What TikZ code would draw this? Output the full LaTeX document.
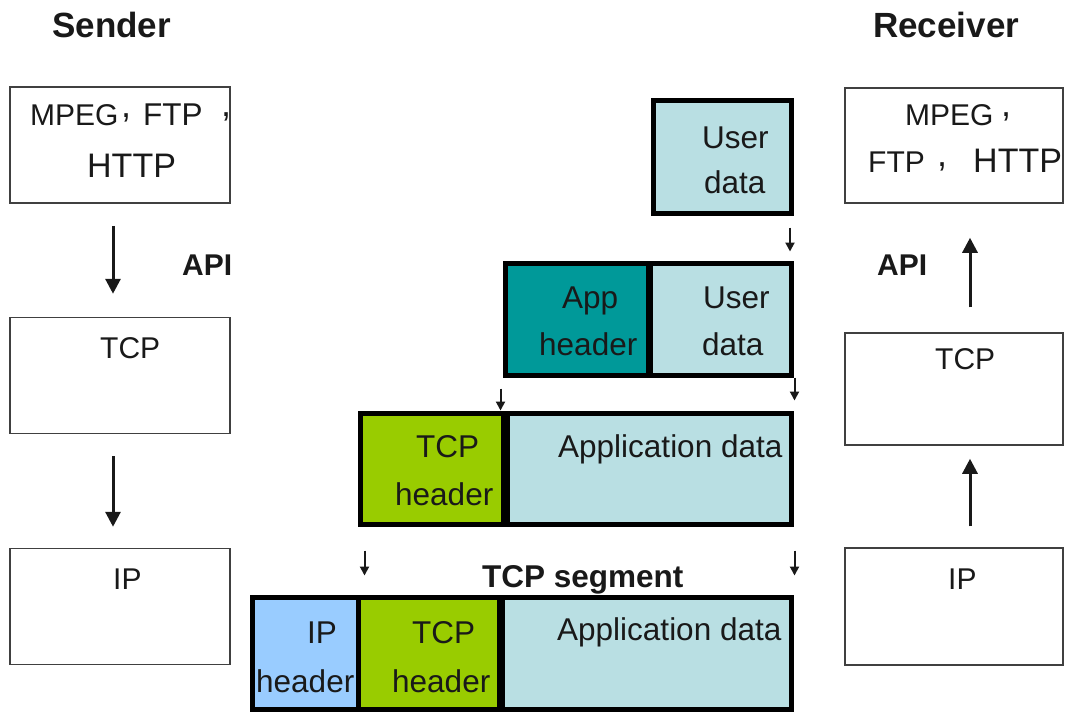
\documentclass[tikz,border=0pt]{standalone}
\usepackage{fontspec}
\setmainfont{Liberation Sans}
\usetikzlibrary{arrows.meta}

\definecolor{datacyan}{RGB}{185,223,227}
\definecolor{appteal}{RGB}{0,153,153}
\definecolor{tcpgreen}{RGB}{153,204,0}
\definecolor{ipblue}{RGB}{153,204,255}
\definecolor{ink}{RGB}{25,25,25}

\begin{document}
\begin{tikzpicture}[x=1pt,y=-1pt,
  sidebox/.style={draw=black!75, line width=1.5pt, inner sep=0pt,
    minimum width=220pt, minimum height=116pt},
  pdu/.style={draw=black, line width=5pt, inner sep=0pt, fill=#1},
  lbl/.style={inner sep=0pt, anchor=base west, text=ink,
    font=\fontsize{30}{36}\selectfont},
  biglbl/.style={lbl, font=\fontsize{34}{40}\selectfont},
  midlbl/.style={lbl, font=\fontsize{31.5}{38}\selectfont},
  ttl/.style={inner sep=0pt, anchor=base west, text=ink,
    font=\bfseries\fontsize{35}{42}\selectfont},
  sublbl/.style={ttl, font=\bfseries\fontsize{30}{36}\selectfont},
  seglbl/.style={ttl, font=\bfseries\fontsize{31.5}{38}\selectfont},
  comma/.style={inner sep=0pt, outer sep=0pt, text=ink, font=\fontsize{36}{36}\selectfont},
  bigarrow/.style={draw=ink, line width=3pt, -{Triangle[length=15pt,width=15pt]}},
  smallarrow/.style={draw=ink, line width=2pt, -{Triangle[length=9pt,width=9pt]}}
]
\useasboundingbox[fill=white] (0,0) rectangle (1067,715);

% ---- column titles ----
\node[ttl] (sender) at (52,37) {Sender};
\node[ttl] (receiver) at (873,37) {Receiver};

% ---- sender stack ----
\node[sidebox] (s1) at (120,145) {};
\node[sidebox] (s2) at (120,375.5) {};
\node[sidebox] (s3) at (120,606.5) {};
\node[lbl] (s1mpeg) at (30,125) {MPEG};
\node[comma] (s1c1) at (126,118) {,};
\node[midlbl] (s1ftp) at (143,125) {FTP};
\node[comma] (s1c2) at (226,117) {,};
\node[biglbl] (s1http) at (87,177) {HTTP};
\node[lbl] (s2tcp) at (100,358) {TCP};
\node[lbl] (s3ip) at (113,589) {IP};
\node[sublbl] (sapi) at (182,275) {API};

\draw[bigarrow] ([xshift=-7pt,yshift=-22pt]s1.south) -- ([xshift=-7pt,yshift=23pt]s2.north);
\draw[bigarrow] ([xshift=-7pt,yshift=-22pt]s2.south) -- ([xshift=-7pt,yshift=21pt]s3.north);

% ---- receiver stack ----
\node[sidebox, minimum width=218pt, minimum height=115pt] (r1) at (954,145.5) {};
\node[sidebox, minimum width=218pt, minimum height=112pt] (r2) at (954,389) {};
\node[sidebox, minimum width=218pt, minimum height=117pt] (r3) at (954,606.5) {};
\node[lbl] (r1mpeg) at (905,125) {MPEG};
\node[comma] (r1c1) at (1006,117) {,};
\node[lbl] (r1ftp) at (868,172) {FTP};
\node[comma] (r1c2) at (942,167) {,};
\node[biglbl] (r1http) at (973,172) {HTTP};
\node[lbl] (r2tcp) at (935,369) {TCP};
\node[lbl] (r3ip) at (948,589) {IP};
\node[sublbl] (rapi) at (877,275) {API};

\draw[bigarrow] ([xshift=16pt,yshift=25pt]r2.north) -- ([xshift=16pt,yshift=-34pt]r1.south);
\draw[bigarrow] ([xshift=16pt,yshift=21pt]r3.north) -- ([xshift=16pt,yshift=-13pt]r2.south);

% ---- encapsulation ----
% user data
\node[pdu=datacyan, minimum width=138pt, minimum height=113pt] (ud1) at (722,156.5) {};
\node[midlbl] (ud1a) at (702,148) {User};
\node[midlbl] (ud1b) at (704,193) {data};

% application header + user data
\node[pdu=appteal, minimum width=143pt, minimum height=112pt] (apph) at (576.5,319) {};
\node[pdu=datacyan, minimum width=141pt, minimum height=112pt] (ud2) at (720.5,319) {};
\node[midlbl] (appha) at (562,308) {App};
\node[midlbl] (apphb) at (539,355) {header};
\node[midlbl] (ud2a) at (703,308) {User};
\node[midlbl] (ud2b) at (702,355) {data};

% TCP header + application data
\node[pdu=tcpgreen, minimum width=143pt, minimum height=111pt] (tcph3) at (431.5,468.5) {};
\node[pdu=datacyan, minimum width=284pt, minimum height=111pt] (appd3) at (649,468.5) {};
\node[midlbl] (tcph3a) at (416,457) {TCP};
\node[midlbl] (tcph3b) at (395,505) {header};
\node[midlbl] (appd3a) at (558,457) {Application data};

% IP header + TCP segment
\node[pdu=ipblue, minimum width=106pt, minimum height=112pt] (iph4) at (305,653) {};
\node[pdu=tcpgreen, minimum width=141pt, minimum height=112pt] (tcph4) at (428.5,653) {};
\node[pdu=datacyan, minimum width=289pt, minimum height=112pt] (appd4) at (646.5,653) {};
\node[midlbl] (iph4a) at (307,643) {IP};
\node[midlbl] (iph4b) at (256,692) {header};
\node[midlbl] (tcph4a) at (412,643) {TCP};
\node[midlbl] (tcph4b) at (392,692) {header};
\node[midlbl] (appd4a) at (557,640) {Application data};
\node[seglbl] (segment) at (482,587) {TCP segment};

% small encapsulation arrows
\draw[smallarrow] ([xshift=68pt,yshift=-12pt]ud1.south) -- ([xshift=68pt,yshift=-36pt]ud1.south);
\draw[smallarrow] ([xshift=1pt]ud2.south east) -- ([xshift=1pt,yshift=-23pt]ud2.south east);
\draw[smallarrow] ([xshift=-2pt,yshift=-11pt]apph.south west) -- ([xshift=-2pt,yshift=-33pt]apph.south west);
\draw[smallarrow] ([xshift=7pt,yshift=-24pt]tcph3.south west) -- ([xshift=7pt,yshift=-49pt]tcph3.south west);
\draw[smallarrow] ([xshift=1pt,yshift=-24pt]appd3.south east) -- ([xshift=1pt,yshift=-49pt]appd3.south east);
\end{tikzpicture}
\end{document}
